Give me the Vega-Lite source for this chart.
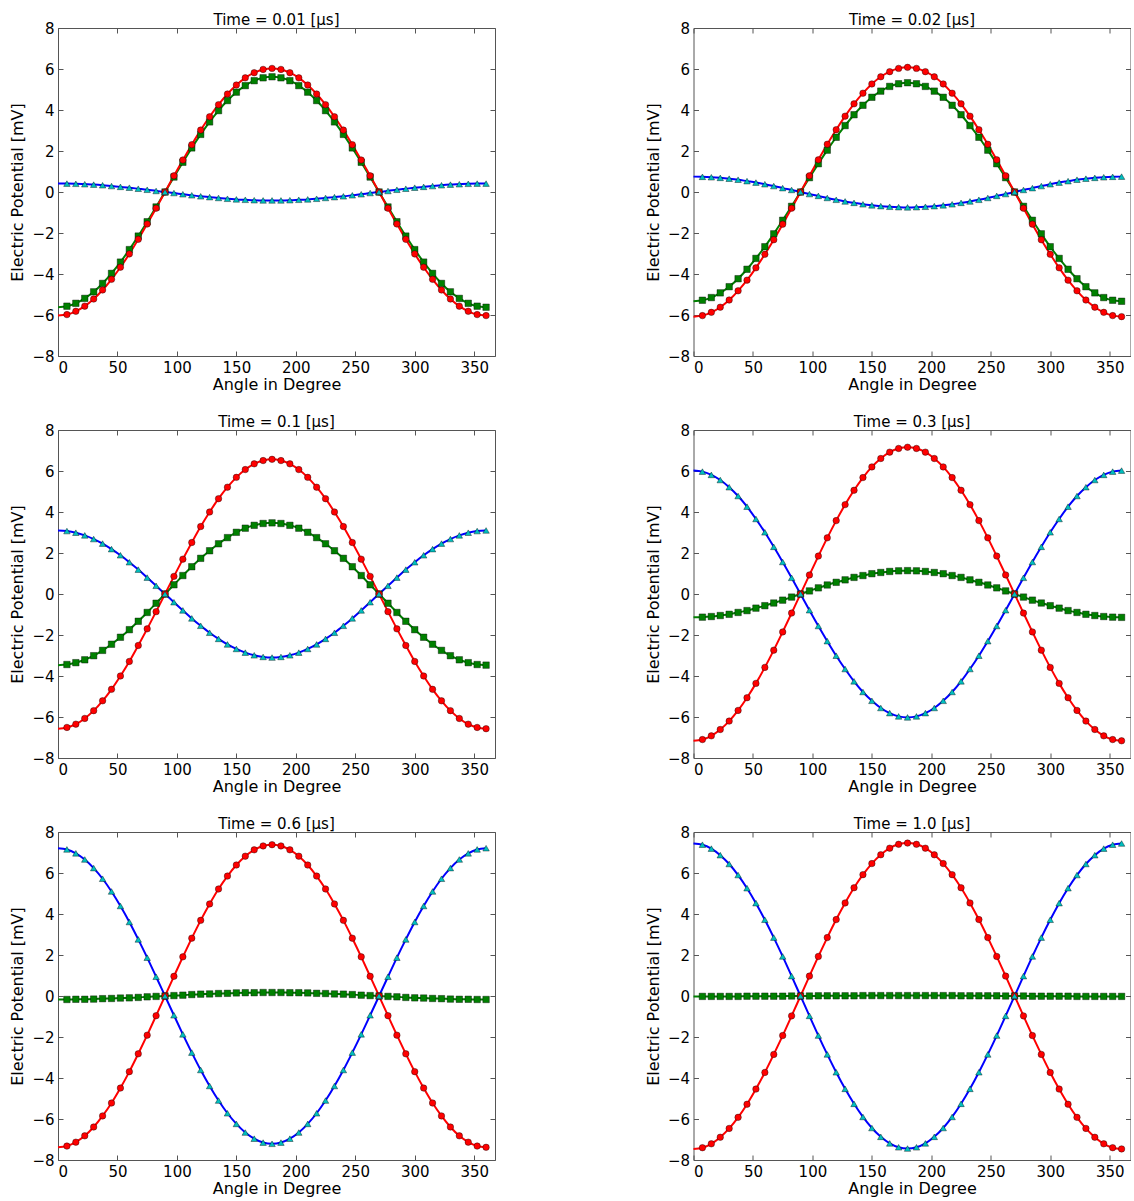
{
 "$schema": "https://vega.github.io/schema/vega-lite/v6.json",
 "background": "white",
 "padding": {"left": 9, "top": 12, "right": 0, "bottom": 0},
 "columns": 2,
 "spacing": {"row": 21, "column": 148.5},
 "resolve": {"scale": {"fill": "independent", "shape": "independent", "stroke": "independent"}, "legend": {"fill": "independent", "shape": "independent", "stroke": "independent"}},
 "datasets": {
  "names": [{"k": "ui", "name": "uᵢ"}, {"k": "ue", "name": "uₑ"}, {"k": "vm", "name": "Vₘ"}],
  "p1": [
{"a":0,"ui":-5.62,"ue":-6.03,"vm":0.41},{"a":7.5,"ui":-5.57,"ue":-5.98,"vm":0.41},{"a":15,"ui":-5.43,"ue":-5.82,"vm":0.40},{"a":22.5,"ui":-5.19,"ue":-5.57,"vm":0.38},{"a":30,"ui":-4.87,"ue":-5.22,"vm":0.36},{"a":37.5,"ui":-4.46,"ue":-4.78,"vm":0.33},{"a":45,"ui":-3.97,"ue":-4.26,"vm":0.29},{"a":52.5,"ui":-3.42,"ue":-3.67,"vm":0.25},{"a":60,"ui":-2.81,"ue":-3.02,"vm":0.21},{"a":67.5,"ui":-2.15,"ue":-2.31,"vm":0.16},{"a":75,"ui":-1.45,"ue":-1.56,"vm":0.11},{"a":82.5,"ui":-0.73,"ue":-0.79,"vm":0.05},{"a":90,"ui":0,"ue":0,"vm":0},
{"a":97.5,"ui":0.73,"ue":0.79,"vm":-0.05},{"a":105,"ui":1.45,"ue":1.56,"vm":-0.11},{"a":112.5,"ui":2.15,"ue":2.31,"vm":-0.16},{"a":120,"ui":2.81,"ue":3.02,"vm":-0.21},{"a":127.5,"ui":3.42,"ue":3.67,"vm":-0.25},{"a":135,"ui":3.97,"ue":4.26,"vm":-0.29},{"a":142.5,"ui":4.46,"ue":4.78,"vm":-0.33},{"a":150,"ui":4.87,"ue":5.22,"vm":-0.36},{"a":157.5,"ui":5.19,"ue":5.57,"vm":-0.38},{"a":165,"ui":5.43,"ue":5.82,"vm":-0.40},{"a":172.5,"ui":5.57,"ue":5.98,"vm":-0.41},{"a":180,"ui":5.62,"ue":6.03,"vm":-0.41},
{"a":187.5,"ui":5.57,"ue":5.98,"vm":-0.41},{"a":195,"ui":5.43,"ue":5.82,"vm":-0.40},{"a":202.5,"ui":5.19,"ue":5.57,"vm":-0.38},{"a":210,"ui":4.87,"ue":5.22,"vm":-0.36},{"a":217.5,"ui":4.46,"ue":4.78,"vm":-0.33},{"a":225,"ui":3.97,"ue":4.26,"vm":-0.29},{"a":232.5,"ui":3.42,"ue":3.67,"vm":-0.25},{"a":240,"ui":2.81,"ue":3.02,"vm":-0.21},{"a":247.5,"ui":2.15,"ue":2.31,"vm":-0.16},{"a":255,"ui":1.45,"ue":1.56,"vm":-0.11},{"a":262.5,"ui":0.73,"ue":0.79,"vm":-0.05},{"a":270,"ui":0,"ue":0,"vm":0},
{"a":277.5,"ui":-0.73,"ue":-0.79,"vm":0.05},{"a":285,"ui":-1.45,"ue":-1.56,"vm":0.11},{"a":292.5,"ui":-2.15,"ue":-2.31,"vm":0.16},{"a":300,"ui":-2.81,"ue":-3.02,"vm":0.21},{"a":307.5,"ui":-3.42,"ue":-3.67,"vm":0.25},{"a":315,"ui":-3.97,"ue":-4.26,"vm":0.29},{"a":322.5,"ui":-4.46,"ue":-4.78,"vm":0.33},{"a":330,"ui":-4.87,"ue":-5.22,"vm":0.36},{"a":337.5,"ui":-5.19,"ue":-5.57,"vm":0.38},{"a":345,"ui":-5.43,"ue":-5.82,"vm":0.40},{"a":352.5,"ui":-5.57,"ue":-5.98,"vm":0.41},{"a":360,"ui":-5.62,"ue":-6.03,"vm":0.41}
  ],
  "p2": [
{"a":0,"ui":-5.33,"ue":-6.08,"vm":0.75},{"a":7.5,"ui":-5.28,"ue":-6.03,"vm":0.74},{"a":15,"ui":-5.15,"ue":-5.87,"vm":0.72},{"a":22.5,"ui":-4.92,"ue":-5.62,"vm":0.69},{"a":30,"ui":-4.62,"ue":-5.27,"vm":0.65},{"a":37.5,"ui":-4.23,"ue":-4.82,"vm":0.6},{"a":45,"ui":-3.77,"ue":-4.3,"vm":0.53},{"a":52.5,"ui":-3.24,"ue":-3.7,"vm":0.46},{"a":60,"ui":-2.67,"ue":-3.04,"vm":0.38},{"a":67.5,"ui":-2.04,"ue":-2.33,"vm":0.29},{"a":75,"ui":-1.38,"ue":-1.57,"vm":0.19},{"a":82.5,"ui":-0.7,"ue":-0.79,"vm":0.1},{"a":90,"ui":0,"ue":0,"vm":0},
{"a":97.5,"ui":0.7,"ue":0.79,"vm":-0.1},{"a":105,"ui":1.38,"ue":1.57,"vm":-0.19},{"a":112.5,"ui":2.04,"ue":2.33,"vm":-0.29},{"a":120,"ui":2.67,"ue":3.04,"vm":-0.38},{"a":127.5,"ui":3.24,"ue":3.7,"vm":-0.46},{"a":135,"ui":3.77,"ue":4.3,"vm":-0.53},{"a":142.5,"ui":4.23,"ue":4.82,"vm":-0.6},{"a":150,"ui":4.62,"ue":5.27,"vm":-0.65},{"a":157.5,"ui":4.92,"ue":5.62,"vm":-0.69},{"a":165,"ui":5.15,"ue":5.87,"vm":-0.72},{"a":172.5,"ui":5.28,"ue":6.03,"vm":-0.74},{"a":180,"ui":5.33,"ue":6.08,"vm":-0.75},
{"a":187.5,"ui":5.28,"ue":6.03,"vm":-0.74},{"a":195,"ui":5.15,"ue":5.87,"vm":-0.72},{"a":202.5,"ui":4.92,"ue":5.62,"vm":-0.69},{"a":210,"ui":4.62,"ue":5.27,"vm":-0.65},{"a":217.5,"ui":4.23,"ue":4.82,"vm":-0.6},{"a":225,"ui":3.77,"ue":4.3,"vm":-0.53},{"a":232.5,"ui":3.24,"ue":3.7,"vm":-0.46},{"a":240,"ui":2.67,"ue":3.04,"vm":-0.38},{"a":247.5,"ui":2.04,"ue":2.33,"vm":-0.29},{"a":255,"ui":1.38,"ue":1.57,"vm":-0.19},{"a":262.5,"ui":0.7,"ue":0.79,"vm":-0.1},{"a":270,"ui":0,"ue":0,"vm":0},
{"a":277.5,"ui":-0.7,"ue":-0.79,"vm":0.1},{"a":285,"ui":-1.38,"ue":-1.57,"vm":0.19},{"a":292.5,"ui":-2.04,"ue":-2.33,"vm":0.29},{"a":300,"ui":-2.67,"ue":-3.04,"vm":0.38},{"a":307.5,"ui":-3.24,"ue":-3.7,"vm":0.46},{"a":315,"ui":-3.77,"ue":-4.3,"vm":0.53},{"a":322.5,"ui":-4.23,"ue":-4.82,"vm":0.6},{"a":330,"ui":-4.62,"ue":-5.27,"vm":0.65},{"a":337.5,"ui":-4.92,"ue":-5.62,"vm":0.69},{"a":345,"ui":-5.15,"ue":-5.87,"vm":0.72},{"a":352.5,"ui":-5.28,"ue":-6.03,"vm":0.74},{"a":360,"ui":-5.33,"ue":-6.08,"vm":0.75}
  ],
  "p3": [
{"a":0,"ui":-3.47,"ue":-6.57,"vm":3.1},{"a":7.5,"ui":-3.44,"ue":-6.51,"vm":3.07},{"a":15,"ui":-3.35,"ue":-6.35,"vm":2.99},{"a":22.5,"ui":-3.21,"ue":-6.07,"vm":2.86},{"a":30,"ui":-3.01,"ue":-5.69,"vm":2.68},{"a":37.5,"ui":-2.75,"ue":-5.21,"vm":2.46},{"a":45,"ui":-2.45,"ue":-4.65,"vm":2.19},{"a":52.5,"ui":-2.11,"ue":-4.0,"vm":1.89},{"a":60,"ui":-1.74,"ue":-3.29,"vm":1.55},{"a":67.5,"ui":-1.33,"ue":-2.51,"vm":1.19},{"a":75,"ui":-0.9,"ue":-1.7,"vm":0.8},{"a":82.5,"ui":-0.45,"ue":-0.86,"vm":0.4},{"a":90,"ui":0,"ue":0,"vm":0},
{"a":97.5,"ui":0.45,"ue":0.86,"vm":-0.4},{"a":105,"ui":0.9,"ue":1.7,"vm":-0.8},{"a":112.5,"ui":1.33,"ue":2.51,"vm":-1.19},{"a":120,"ui":1.74,"ue":3.29,"vm":-1.55},{"a":127.5,"ui":2.11,"ue":4.0,"vm":-1.89},{"a":135,"ui":2.45,"ue":4.65,"vm":-2.19},{"a":142.5,"ui":2.75,"ue":5.21,"vm":-2.46},{"a":150,"ui":3.01,"ue":5.69,"vm":-2.68},{"a":157.5,"ui":3.21,"ue":6.07,"vm":-2.86},{"a":165,"ui":3.35,"ue":6.35,"vm":-2.99},{"a":172.5,"ui":3.44,"ue":6.51,"vm":-3.07},{"a":180,"ui":3.47,"ue":6.57,"vm":-3.1},
{"a":187.5,"ui":3.44,"ue":6.51,"vm":-3.07},{"a":195,"ui":3.35,"ue":6.35,"vm":-2.99},{"a":202.5,"ui":3.21,"ue":6.07,"vm":-2.86},{"a":210,"ui":3.01,"ue":5.69,"vm":-2.68},{"a":217.5,"ui":2.75,"ue":5.21,"vm":-2.46},{"a":225,"ui":2.45,"ue":4.65,"vm":-2.19},{"a":232.5,"ui":2.11,"ue":4.0,"vm":-1.89},{"a":240,"ui":1.74,"ue":3.29,"vm":-1.55},{"a":247.5,"ui":1.33,"ue":2.51,"vm":-1.19},{"a":255,"ui":0.9,"ue":1.7,"vm":-0.8},{"a":262.5,"ui":0.45,"ue":0.86,"vm":-0.4},{"a":270,"ui":0,"ue":0,"vm":0},
{"a":277.5,"ui":-0.45,"ue":-0.86,"vm":0.4},{"a":285,"ui":-0.9,"ue":-1.7,"vm":0.8},{"a":292.5,"ui":-1.33,"ue":-2.51,"vm":1.19},{"a":300,"ui":-1.74,"ue":-3.29,"vm":1.55},{"a":307.5,"ui":-2.11,"ue":-4.0,"vm":1.89},{"a":315,"ui":-2.45,"ue":-4.65,"vm":2.19},{"a":322.5,"ui":-2.75,"ue":-5.21,"vm":2.46},{"a":330,"ui":-3.01,"ue":-5.69,"vm":2.68},{"a":337.5,"ui":-3.21,"ue":-6.07,"vm":2.86},{"a":345,"ui":-3.35,"ue":-6.35,"vm":2.99},{"a":352.5,"ui":-3.44,"ue":-6.51,"vm":3.07},{"a":360,"ui":-3.47,"ue":-6.57,"vm":3.1}
  ],
  "p4": [
{"a":0,"ui":-1.14,"ue":-7.16,"vm":6.02},{"a":7.5,"ui":-1.13,"ue":-7.1,"vm":5.97},{"a":15,"ui":-1.1,"ue":-6.92,"vm":5.81},{"a":22.5,"ui":-1.05,"ue":-6.61,"vm":5.56},{"a":30,"ui":-0.99,"ue":-6.2,"vm":5.21},{"a":37.5,"ui":-0.9,"ue":-5.68,"vm":4.78},{"a":45,"ui":-0.81,"ue":-5.06,"vm":4.26},{"a":52.5,"ui":-0.69,"ue":-4.36,"vm":3.66},{"a":60,"ui":-0.57,"ue":-3.58,"vm":3.01},{"a":67.5,"ui":-0.44,"ue":-2.74,"vm":2.3},{"a":75,"ui":-0.3,"ue":-1.85,"vm":1.56},{"a":82.5,"ui":-0.15,"ue":-0.93,"vm":0.79},{"a":90,"ui":0,"ue":0,"vm":0},
{"a":97.5,"ui":0.15,"ue":0.93,"vm":-0.79},{"a":105,"ui":0.3,"ue":1.85,"vm":-1.56},{"a":112.5,"ui":0.44,"ue":2.74,"vm":-2.3},{"a":120,"ui":0.57,"ue":3.58,"vm":-3.01},{"a":127.5,"ui":0.69,"ue":4.36,"vm":-3.66},{"a":135,"ui":0.81,"ue":5.06,"vm":-4.26},{"a":142.5,"ui":0.9,"ue":5.68,"vm":-4.78},{"a":150,"ui":0.99,"ue":6.2,"vm":-5.21},{"a":157.5,"ui":1.05,"ue":6.61,"vm":-5.56},{"a":165,"ui":1.1,"ue":6.92,"vm":-5.81},{"a":172.5,"ui":1.13,"ue":7.1,"vm":-5.97},{"a":180,"ui":1.14,"ue":7.16,"vm":-6.02},
{"a":187.5,"ui":1.13,"ue":7.1,"vm":-5.97},{"a":195,"ui":1.1,"ue":6.92,"vm":-5.81},{"a":202.5,"ui":1.05,"ue":6.61,"vm":-5.56},{"a":210,"ui":0.99,"ue":6.2,"vm":-5.21},{"a":217.5,"ui":0.9,"ue":5.68,"vm":-4.78},{"a":225,"ui":0.81,"ue":5.06,"vm":-4.26},{"a":232.5,"ui":0.69,"ue":4.36,"vm":-3.66},{"a":240,"ui":0.57,"ue":3.58,"vm":-3.01},{"a":247.5,"ui":0.44,"ue":2.74,"vm":-2.3},{"a":255,"ui":0.3,"ue":1.85,"vm":-1.56},{"a":262.5,"ui":0.15,"ue":0.93,"vm":-0.79},{"a":270,"ui":0,"ue":0,"vm":0},
{"a":277.5,"ui":-0.15,"ue":-0.93,"vm":0.79},{"a":285,"ui":-0.3,"ue":-1.85,"vm":1.56},{"a":292.5,"ui":-0.44,"ue":-2.74,"vm":2.3},{"a":300,"ui":-0.57,"ue":-3.58,"vm":3.01},{"a":307.5,"ui":-0.69,"ue":-4.36,"vm":3.66},{"a":315,"ui":-0.81,"ue":-5.06,"vm":4.26},{"a":322.5,"ui":-0.9,"ue":-5.68,"vm":4.78},{"a":330,"ui":-0.99,"ue":-6.2,"vm":5.21},{"a":337.5,"ui":-1.05,"ue":-6.61,"vm":5.56},{"a":345,"ui":-1.1,"ue":-6.92,"vm":5.81},{"a":352.5,"ui":-1.13,"ue":-7.1,"vm":5.97},{"a":360,"ui":-1.14,"ue":-7.16,"vm":6.02}
  ],
  "p5": [
{"a":0,"ui":-0.17,"ue":-7.38,"vm":7.21},{"a":7.5,"ui":-0.17,"ue":-7.32,"vm":7.15},{"a":15,"ui":-0.16,"ue":-7.13,"vm":6.96},{"a":22.5,"ui":-0.16,"ue":-6.82,"vm":6.66},{"a":30,"ui":-0.15,"ue":-6.39,"vm":6.24},{"a":37.5,"ui":-0.13,"ue":-5.85,"vm":5.72},{"a":45,"ui":-0.12,"ue":-5.22,"vm":5.1},{"a":52.5,"ui":-0.1,"ue":-4.49,"vm":4.39},{"a":60,"ui":-0.09,"ue":-3.69,"vm":3.61},{"a":67.5,"ui":-0.07,"ue":-2.82,"vm":2.76},{"a":75,"ui":-0.04,"ue":-1.91,"vm":1.87},{"a":82.5,"ui":-0.02,"ue":-0.96,"vm":0.94},{"a":90,"ui":0,"ue":0,"vm":0},
{"a":97.5,"ui":0.02,"ue":0.96,"vm":-0.94},{"a":105,"ui":0.04,"ue":1.91,"vm":-1.87},{"a":112.5,"ui":0.07,"ue":2.82,"vm":-2.76},{"a":120,"ui":0.09,"ue":3.69,"vm":-3.61},{"a":127.5,"ui":0.1,"ue":4.49,"vm":-4.39},{"a":135,"ui":0.12,"ue":5.22,"vm":-5.1},{"a":142.5,"ui":0.13,"ue":5.85,"vm":-5.72},{"a":150,"ui":0.15,"ue":6.39,"vm":-6.24},{"a":157.5,"ui":0.16,"ue":6.82,"vm":-6.66},{"a":165,"ui":0.16,"ue":7.13,"vm":-6.96},{"a":172.5,"ui":0.17,"ue":7.32,"vm":-7.15},{"a":180,"ui":0.17,"ue":7.38,"vm":-7.21},
{"a":187.5,"ui":0.17,"ue":7.32,"vm":-7.15},{"a":195,"ui":0.16,"ue":7.13,"vm":-6.96},{"a":202.5,"ui":0.16,"ue":6.82,"vm":-6.66},{"a":210,"ui":0.15,"ue":6.39,"vm":-6.24},{"a":217.5,"ui":0.13,"ue":5.85,"vm":-5.72},{"a":225,"ui":0.12,"ue":5.22,"vm":-5.1},{"a":232.5,"ui":0.1,"ue":4.49,"vm":-4.39},{"a":240,"ui":0.09,"ue":3.69,"vm":-3.61},{"a":247.5,"ui":0.07,"ue":2.82,"vm":-2.76},{"a":255,"ui":0.04,"ue":1.91,"vm":-1.87},{"a":262.5,"ui":0.02,"ue":0.96,"vm":-0.94},{"a":270,"ui":0,"ue":0,"vm":0},
{"a":277.5,"ui":-0.02,"ue":-0.96,"vm":0.94},{"a":285,"ui":-0.04,"ue":-1.91,"vm":1.87},{"a":292.5,"ui":-0.07,"ue":-2.82,"vm":2.76},{"a":300,"ui":-0.09,"ue":-3.69,"vm":3.61},{"a":307.5,"ui":-0.1,"ue":-4.49,"vm":4.39},{"a":315,"ui":-0.12,"ue":-5.22,"vm":5.1},{"a":322.5,"ui":-0.13,"ue":-5.85,"vm":5.72},{"a":330,"ui":-0.15,"ue":-6.39,"vm":6.24},{"a":337.5,"ui":-0.16,"ue":-6.82,"vm":6.66},{"a":345,"ui":-0.16,"ue":-7.13,"vm":6.96},{"a":352.5,"ui":-0.17,"ue":-7.32,"vm":7.15},{"a":360,"ui":-0.17,"ue":-7.38,"vm":7.21}
  ],
  "p6": [
{"a":0,"ui":-0.02,"ue":-7.46,"vm":7.44},{"a":7.5,"ui":-0.02,"ue":-7.4,"vm":7.38},{"a":15,"ui":-0.02,"ue":-7.21,"vm":7.19},{"a":22.5,"ui":-0.02,"ue":-6.89,"vm":6.87},{"a":30,"ui":-0.02,"ue":-6.46,"vm":6.44},{"a":37.5,"ui":-0.02,"ue":-5.92,"vm":5.9},{"a":45,"ui":-0.01,"ue":-5.28,"vm":5.26},{"a":52.5,"ui":-0.01,"ue":-4.54,"vm":4.53},{"a":60,"ui":-0.01,"ue":-3.73,"vm":3.72},{"a":67.5,"ui":-0.01,"ue":-2.85,"vm":2.85},{"a":75,"ui":-0.01,"ue":-1.93,"vm":1.93},{"a":82.5,"ui":0,"ue":-0.97,"vm":0.97},{"a":90,"ui":0,"ue":0,"vm":0},
{"a":97.5,"ui":0,"ue":0.97,"vm":-0.97},{"a":105,"ui":0.01,"ue":1.93,"vm":-1.93},{"a":112.5,"ui":0.01,"ue":2.85,"vm":-2.85},{"a":120,"ui":0.01,"ue":3.73,"vm":-3.72},{"a":127.5,"ui":0.01,"ue":4.54,"vm":-4.53},{"a":135,"ui":0.01,"ue":5.28,"vm":-5.26},{"a":142.5,"ui":0.02,"ue":5.92,"vm":-5.9},{"a":150,"ui":0.02,"ue":6.46,"vm":-6.44},{"a":157.5,"ui":0.02,"ue":6.89,"vm":-6.87},{"a":165,"ui":0.02,"ue":7.21,"vm":-7.19},{"a":172.5,"ui":0.02,"ue":7.4,"vm":-7.38},{"a":180,"ui":0.02,"ue":7.46,"vm":-7.44},
{"a":187.5,"ui":0.02,"ue":7.4,"vm":-7.38},{"a":195,"ui":0.02,"ue":7.21,"vm":-7.19},{"a":202.5,"ui":0.02,"ue":6.89,"vm":-6.87},{"a":210,"ui":0.02,"ue":6.46,"vm":-6.44},{"a":217.5,"ui":0.02,"ue":5.92,"vm":-5.9},{"a":225,"ui":0.01,"ue":5.28,"vm":-5.26},{"a":232.5,"ui":0.01,"ue":4.54,"vm":-4.53},{"a":240,"ui":0.01,"ue":3.73,"vm":-3.72},{"a":247.5,"ui":0.01,"ue":2.85,"vm":-2.85},{"a":255,"ui":0.01,"ue":1.93,"vm":-1.93},{"a":262.5,"ui":0,"ue":0.97,"vm":-0.97},{"a":270,"ui":0,"ue":0,"vm":0},
{"a":277.5,"ui":0,"ue":-0.97,"vm":0.97},{"a":285,"ui":-0.01,"ue":-1.93,"vm":1.93},{"a":292.5,"ui":-0.01,"ue":-2.85,"vm":2.85},{"a":300,"ui":-0.01,"ue":-3.73,"vm":3.72},{"a":307.5,"ui":-0.01,"ue":-4.54,"vm":4.53},{"a":315,"ui":-0.01,"ue":-5.28,"vm":5.26},{"a":322.5,"ui":-0.02,"ue":-5.92,"vm":5.9},{"a":330,"ui":-0.02,"ue":-6.46,"vm":6.44},{"a":337.5,"ui":-0.02,"ue":-6.89,"vm":6.87},{"a":345,"ui":-0.02,"ue":-7.21,"vm":7.19},{"a":352.5,"ui":-0.02,"ue":-7.4,"vm":7.38},{"a":360,"ui":-0.02,"ue":-7.46,"vm":7.44}
  ]
 },
 "concat": [
  {"data": {"name": "p1"}, "transform": [{"fold": ["ui","ue","vm"], "as": ["s","v"]}, {"lookup": "s", "from": {"data": {"name": "names"}, "key": "k", "fields": ["name"]}}], "title": "Time = 0.01 [μs]", "width": 437, "height": 328,
   "encoding": {"x": {"field": "a", "type": "quantitative", "scale": {"domain": [0, 367.5], "nice": false, "zero": false}, "axis": {"values": [0,50,100,150,200,250,300,350], "title": "Angle in Degree"}}, "y": {"field": "v", "type": "quantitative", "scale": {"domain": [-8, 8], "nice": false}, "axis": {"values": [-8,-6,-4,-2,0,2,4,6,8], "title": "Electric Potential [mV]"}}},
   "layer": [
    {"mark": {"type": "line", "strokeWidth": 2, "interpolate": "monotone"}, "encoding": {"stroke": {"field": "name", "type": "nominal", "scale": {"domain": ["uᵢ","uₑ","Vₘ"], "range": ["#008000","#ff0000","#0000ff"]}, "legend": null}}},
    {"transform": [{"filter": "datum.a > 0"}], "mark": {"type": "point", "filled": true, "size": 42, "opacity": 1, "stroke": "#000", "strokeWidth": 0.4},
     "encoding": {
      "fill": {"field": "name", "type": "nominal", "scale": {"domain": ["uᵢ","uₑ","Vₘ"], "range": ["#008000","#ff0000","#00bfbf"]}, "legend": {"title": null}},
      "shape": {"field": "name", "type": "nominal", "scale": {"domain": ["uᵢ","uₑ","Vₘ"], "range": ["square","circle","triangle-up"]}, "legend": {"title": null}}
     }}
   ]},
  {"data": {"name": "p2"}, "transform": [{"fold": ["ui","ue","vm"], "as": ["s","v"]}, {"lookup": "s", "from": {"data": {"name": "names"}, "key": "k", "fields": ["name"]}}], "title": "Time = 0.02 [μs]", "width": 437, "height": 328,
   "encoding": {"x": {"field": "a", "type": "quantitative", "scale": {"domain": [0, 367.5], "nice": false, "zero": false}, "axis": {"values": [0,50,100,150,200,250,300,350], "title": "Angle in Degree"}}, "y": {"field": "v", "type": "quantitative", "scale": {"domain": [-8, 8], "nice": false}, "axis": {"values": [-8,-6,-4,-2,0,2,4,6,8], "title": "Electric Potential [mV]"}}},
   "layer": [
    {"mark": {"type": "line", "strokeWidth": 2, "interpolate": "monotone"}, "encoding": {"stroke": {"field": "name", "type": "nominal", "scale": {"domain": ["uᵢ","uₑ","Vₘ"], "range": ["#008000","#ff0000","#0000ff"]}, "legend": null}}},
    {"transform": [{"filter": "datum.a > 0"}], "mark": {"type": "point", "filled": true, "size": 42, "opacity": 1, "stroke": "#000", "strokeWidth": 0.4},
     "encoding": {
      "fill": {"field": "name", "type": "nominal", "scale": {"domain": ["uᵢ","uₑ","Vₘ"], "range": ["#008000","#ff0000","#00bfbf"]}, "legend": {"title": null}},
      "shape": {"field": "name", "type": "nominal", "scale": {"domain": ["uᵢ","uₑ","Vₘ"], "range": ["square","circle","triangle-up"]}, "legend": {"title": null}}
     }}
   ]},
  {"data": {"name": "p3"}, "transform": [{"fold": ["ui","ue","vm"], "as": ["s","v"]}, {"lookup": "s", "from": {"data": {"name": "names"}, "key": "k", "fields": ["name"]}}], "title": "Time = 0.1 [μs]", "width": 437, "height": 328,
   "encoding": {"x": {"field": "a", "type": "quantitative", "scale": {"domain": [0, 367.5], "nice": false, "zero": false}, "axis": {"values": [0,50,100,150,200,250,300,350], "title": "Angle in Degree"}}, "y": {"field": "v", "type": "quantitative", "scale": {"domain": [-8, 8], "nice": false}, "axis": {"values": [-8,-6,-4,-2,0,2,4,6,8], "title": "Electric Potential [mV]"}}},
   "layer": [
    {"mark": {"type": "line", "strokeWidth": 2, "interpolate": "monotone"}, "encoding": {"stroke": {"field": "name", "type": "nominal", "scale": {"domain": ["uᵢ","uₑ","Vₘ"], "range": ["#008000","#ff0000","#0000ff"]}, "legend": null}}},
    {"transform": [{"filter": "datum.a > 0"}], "mark": {"type": "point", "filled": true, "size": 42, "opacity": 1, "stroke": "#000", "strokeWidth": 0.4},
     "encoding": {
      "fill": {"field": "name", "type": "nominal", "scale": {"domain": ["uᵢ","uₑ","Vₘ"], "range": ["#008000","#ff0000","#00bfbf"]}, "legend": {"title": null}},
      "shape": {"field": "name", "type": "nominal", "scale": {"domain": ["uᵢ","uₑ","Vₘ"], "range": ["square","circle","triangle-up"]}, "legend": {"title": null}}
     }}
   ]},
  {"data": {"name": "p4"}, "transform": [{"fold": ["ui","ue","vm"], "as": ["s","v"]}, {"lookup": "s", "from": {"data": {"name": "names"}, "key": "k", "fields": ["name"]}}], "title": "Time = 0.3 [μs]", "width": 437, "height": 328,
   "encoding": {"x": {"field": "a", "type": "quantitative", "scale": {"domain": [0, 367.5], "nice": false, "zero": false}, "axis": {"values": [0,50,100,150,200,250,300,350], "title": "Angle in Degree"}}, "y": {"field": "v", "type": "quantitative", "scale": {"domain": [-8, 8], "nice": false}, "axis": {"values": [-8,-6,-4,-2,0,2,4,6,8], "title": "Electric Potential [mV]"}}},
   "layer": [
    {"mark": {"type": "line", "strokeWidth": 2, "interpolate": "monotone"}, "encoding": {"stroke": {"field": "name", "type": "nominal", "scale": {"domain": ["uᵢ","uₑ","Vₘ"], "range": ["#008000","#ff0000","#0000ff"]}, "legend": null}}},
    {"transform": [{"filter": "datum.a > 0"}], "mark": {"type": "point", "filled": true, "size": 42, "opacity": 1, "stroke": "#000", "strokeWidth": 0.4},
     "encoding": {
      "fill": {"field": "name", "type": "nominal", "scale": {"domain": ["uᵢ","uₑ","Vₘ"], "range": ["#008000","#ff0000","#00bfbf"]}, "legend": {"title": null}},
      "shape": {"field": "name", "type": "nominal", "scale": {"domain": ["uᵢ","uₑ","Vₘ"], "range": ["square","circle","triangle-up"]}, "legend": {"title": null}}
     }}
   ]},
  {"data": {"name": "p5"}, "transform": [{"fold": ["ui","ue","vm"], "as": ["s","v"]}, {"lookup": "s", "from": {"data": {"name": "names"}, "key": "k", "fields": ["name"]}}], "title": "Time = 0.6 [μs]", "width": 437, "height": 328,
   "encoding": {"x": {"field": "a", "type": "quantitative", "scale": {"domain": [0, 367.5], "nice": false, "zero": false}, "axis": {"values": [0,50,100,150,200,250,300,350], "title": "Angle in Degree"}}, "y": {"field": "v", "type": "quantitative", "scale": {"domain": [-8, 8], "nice": false}, "axis": {"values": [-8,-6,-4,-2,0,2,4,6,8], "title": "Electric Potential [mV]"}}},
   "layer": [
    {"mark": {"type": "line", "strokeWidth": 2, "interpolate": "monotone"}, "encoding": {"stroke": {"field": "name", "type": "nominal", "scale": {"domain": ["uᵢ","uₑ","Vₘ"], "range": ["#008000","#ff0000","#0000ff"]}, "legend": null}}},
    {"transform": [{"filter": "datum.a > 0"}], "mark": {"type": "point", "filled": true, "size": 42, "opacity": 1, "stroke": "#000", "strokeWidth": 0.4},
     "encoding": {
      "fill": {"field": "name", "type": "nominal", "scale": {"domain": ["uᵢ","uₑ","Vₘ"], "range": ["#008000","#ff0000","#00bfbf"]}, "legend": {"title": null}},
      "shape": {"field": "name", "type": "nominal", "scale": {"domain": ["uᵢ","uₑ","Vₘ"], "range": ["square","circle","triangle-up"]}, "legend": {"title": null}}
     }}
   ]},
  {"data": {"name": "p6"}, "transform": [{"fold": ["ui","ue","vm"], "as": ["s","v"]}, {"lookup": "s", "from": {"data": {"name": "names"}, "key": "k", "fields": ["name"]}}], "title": "Time = 1.0 [μs]", "width": 437, "height": 328,
   "encoding": {"x": {"field": "a", "type": "quantitative", "scale": {"domain": [0, 367.5], "nice": false, "zero": false}, "axis": {"values": [0,50,100,150,200,250,300,350], "title": "Angle in Degree"}}, "y": {"field": "v", "type": "quantitative", "scale": {"domain": [-8, 8], "nice": false}, "axis": {"values": [-8,-6,-4,-2,0,2,4,6,8], "title": "Electric Potential [mV]"}}},
   "layer": [
    {"mark": {"type": "line", "strokeWidth": 2, "interpolate": "monotone"}, "encoding": {"stroke": {"field": "name", "type": "nominal", "scale": {"domain": ["uᵢ","uₑ","Vₘ"], "range": ["#008000","#ff0000","#0000ff"]}, "legend": null}}},
    {"transform": [{"filter": "datum.a > 0"}], "mark": {"type": "point", "filled": true, "size": 42, "opacity": 1, "stroke": "#000", "strokeWidth": 0.4},
     "encoding": {
      "fill": {"field": "name", "type": "nominal", "scale": {"domain": ["uᵢ","uₑ","Vₘ"], "range": ["#008000","#ff0000","#00bfbf"]}, "legend": {"title": null}},
      "shape": {"field": "name", "type": "nominal", "scale": {"domain": ["uᵢ","uₑ","Vₘ"], "range": ["square","circle","triangle-up"]}, "legend": {"title": null}}
     }}
   ]}
 ],
 "config": {
  "view": {"stroke": "#555", "strokeWidth": 1},
  "axis": {"domain": false, "ticks": false, "grid": true, "gridColor": "#555", "gridWidth": 1, "gridOpacity": 1, "labelFont": "DejaVu Sans", "labelFontSize": 15, "labelColor": "#000", "labelPadding": 4, "titleFont": "DejaVu Sans", "titleFontSize": 16, "titleFontWeight": "normal", "titleColor": "#000", "titlePadding": 1.5},
  "axisX": {"gridDash": [5, 318]},
  "axisY": {"gridDash": [5, 427], "titlePadding": 6},
  "title": {"font": "DejaVu Sans", "fontSize": 15, "fontWeight": "normal", "color": "#000", "offset": -7, "frame": "group"},
  "legend": {"orient": "top-left", "offset": 12, "padding": 7, "rowPadding": 9, "symbolSize": 42, "labelOffset": 50, "labelFont": "Liberation Serif", "labelFontStyle": "italic", "labelFontSize": 26, "labelColor": "#000", "fillColor": "#fff", "strokeColor": "#555", "direction": "vertical"}
 }
}
